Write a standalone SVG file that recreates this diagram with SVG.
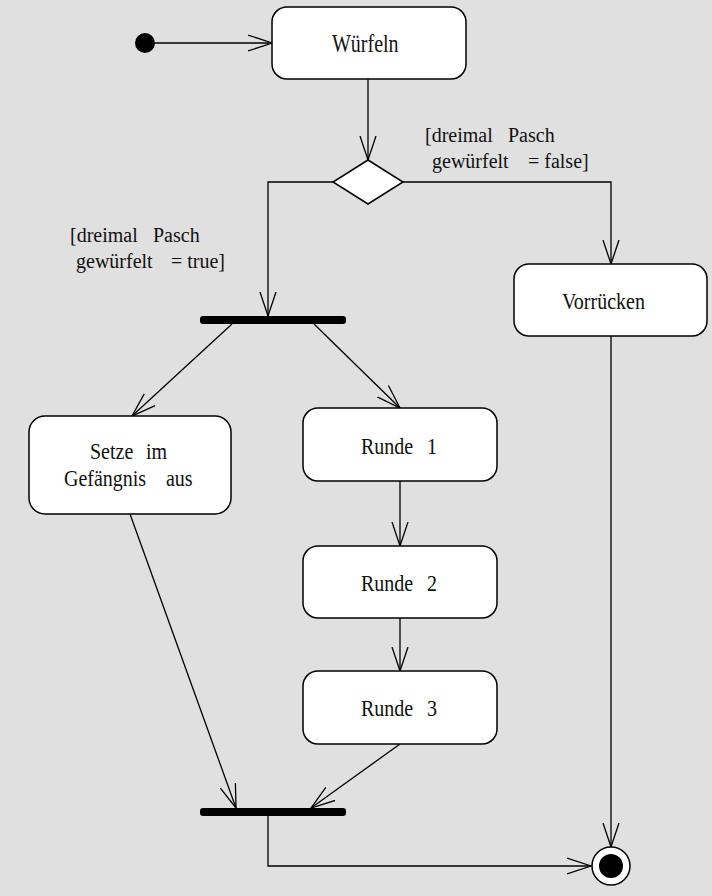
<svg xmlns="http://www.w3.org/2000/svg" width="712" height="896" viewBox="0 0 712 896">
<style>
.bg{fill:#e0e0e0}
.box{fill:#fff;stroke:#000;stroke-width:1.5}
.bar{fill:#000}
.edge{fill:none;stroke:#000;stroke-width:1.3}
.t{font-family:'Liberation Serif','DejaVu Serif',serif;font-size:20px;fill:#111}
</style>
<defs>
<marker id="arr" markerUnits="userSpaceOnUse" markerWidth="28" markerHeight="20" refX="24" refY="9" orient="auto">
<path d="M0,1 L24,9 L0,17" fill="none" stroke="#000" stroke-width="1.3"/>
</marker>
</defs>
<rect class="bg" x="0" y="0" width="712" height="896"/>

<g id="connectors">
<line class="edge" x1="155" y1="43" x2="272" y2="43" marker-end="url(#arr)"/>
<line class="edge" x1="368" y1="79" x2="368" y2="160" marker-end="url(#arr)"/>
<polyline class="edge" points="333,182 268,182 268,316" marker-end="url(#arr)"/>
<polyline class="edge" points="403,182 611,182 611,264" marker-end="url(#arr)"/>
<line class="edge" x1="232" y1="324" x2="132" y2="416" marker-end="url(#arr)"/>
<line class="edge" x1="314" y1="324" x2="400" y2="408" marker-end="url(#arr)"/>
<line class="edge" x1="400" y1="481" x2="400" y2="546" marker-end="url(#arr)"/>
<line class="edge" x1="400" y1="618" x2="400" y2="671" marker-end="url(#arr)"/>
<line class="edge" x1="130" y1="514" x2="236" y2="808" marker-end="url(#arr)"/>
<line class="edge" x1="400" y1="744" x2="311" y2="808" marker-end="url(#arr)"/>
<polyline class="edge" points="268,816 268,866 591,866" marker-end="url(#arr)"/>
<line class="edge" x1="611" y1="336" x2="611" y2="847" marker-end="url(#arr)"/>
<g id="guard-false">
<text class="t" y="142"><tspan x="425">[dreimal</tspan><tspan x="508">Pasch</tspan></text>
<text class="t" y="168"><tspan x="432">gewürfelt</tspan><tspan x="528">= false]</tspan></text>
</g>
<g id="guard-true">
<text class="t" y="242"><tspan x="70">[dreimal</tspan><tspan x="153">Pasch</tspan></text>
<text class="t" y="268"><tspan x="76">gewürfelt</tspan><tspan x="171">= true]</tspan></text>
</g>
</g>

<g id="start"><circle cx="145" cy="43" r="10" fill="#000"/></g>

<g id="wuerfeln">
<rect class="box" x="272" y="7" width="194" height="72" rx="15"/>
<text class="t" transform="translate(0 52) scale(1 1.25)" x="332" y="0">Würfeln</text>
</g>

<g id="decision">
<polygon points="368,160 403,182 368,204 333,182" fill="#fff" stroke="#000" stroke-width="1.5"/>
</g>

<g id="vorruecken">
<rect class="box" x="514" y="264" width="193" height="72" rx="15"/>
<text class="t" transform="translate(0 309) scale(1 1.2)" x="562" y="0">Vorrücken</text>
</g>

<g id="fork"><rect class="bar" x="200" y="316" width="146" height="8" rx="3"/></g>

<g id="setze">
<rect class="box" x="29" y="416" width="202" height="98" rx="16"/>
<text class="t" transform="translate(0 459) scale(1 1.2)" y="0"><tspan x="90">Setze</tspan><tspan x="146">im</tspan></text>
<text class="t" transform="translate(0 486) scale(1 1.2)" y="0"><tspan x="64">Gefängnis</tspan><tspan x="166">aus</tspan></text>
</g>

<g id="runde1">
<rect class="box" x="303" y="408" width="194" height="73" rx="15"/>
<text class="t" transform="translate(0 454) scale(1 1.2)" y="0"><tspan x="361">Runde</tspan><tspan x="427">1</tspan></text>
</g>

<g id="runde2">
<rect class="box" x="303" y="546" width="194" height="72" rx="15"/>
<text class="t" transform="translate(0 591) scale(1 1.2)" y="0"><tspan x="361">Runde</tspan><tspan x="427">2</tspan></text>
</g>

<g id="runde3">
<rect class="box" x="303" y="671" width="194" height="73" rx="15"/>
<text class="t" transform="translate(0 716) scale(1 1.2)" y="0"><tspan x="361">Runde</tspan><tspan x="427">3</tspan></text>
</g>

<g id="join"><rect class="bar" x="200" y="808" width="146" height="8" rx="3"/></g>

<g id="end">
<circle cx="611" cy="866" r="19" fill="#fff" stroke="#000" stroke-width="1.5"/>
<circle cx="611" cy="866" r="12" fill="#000"/>
</g>
</svg>
